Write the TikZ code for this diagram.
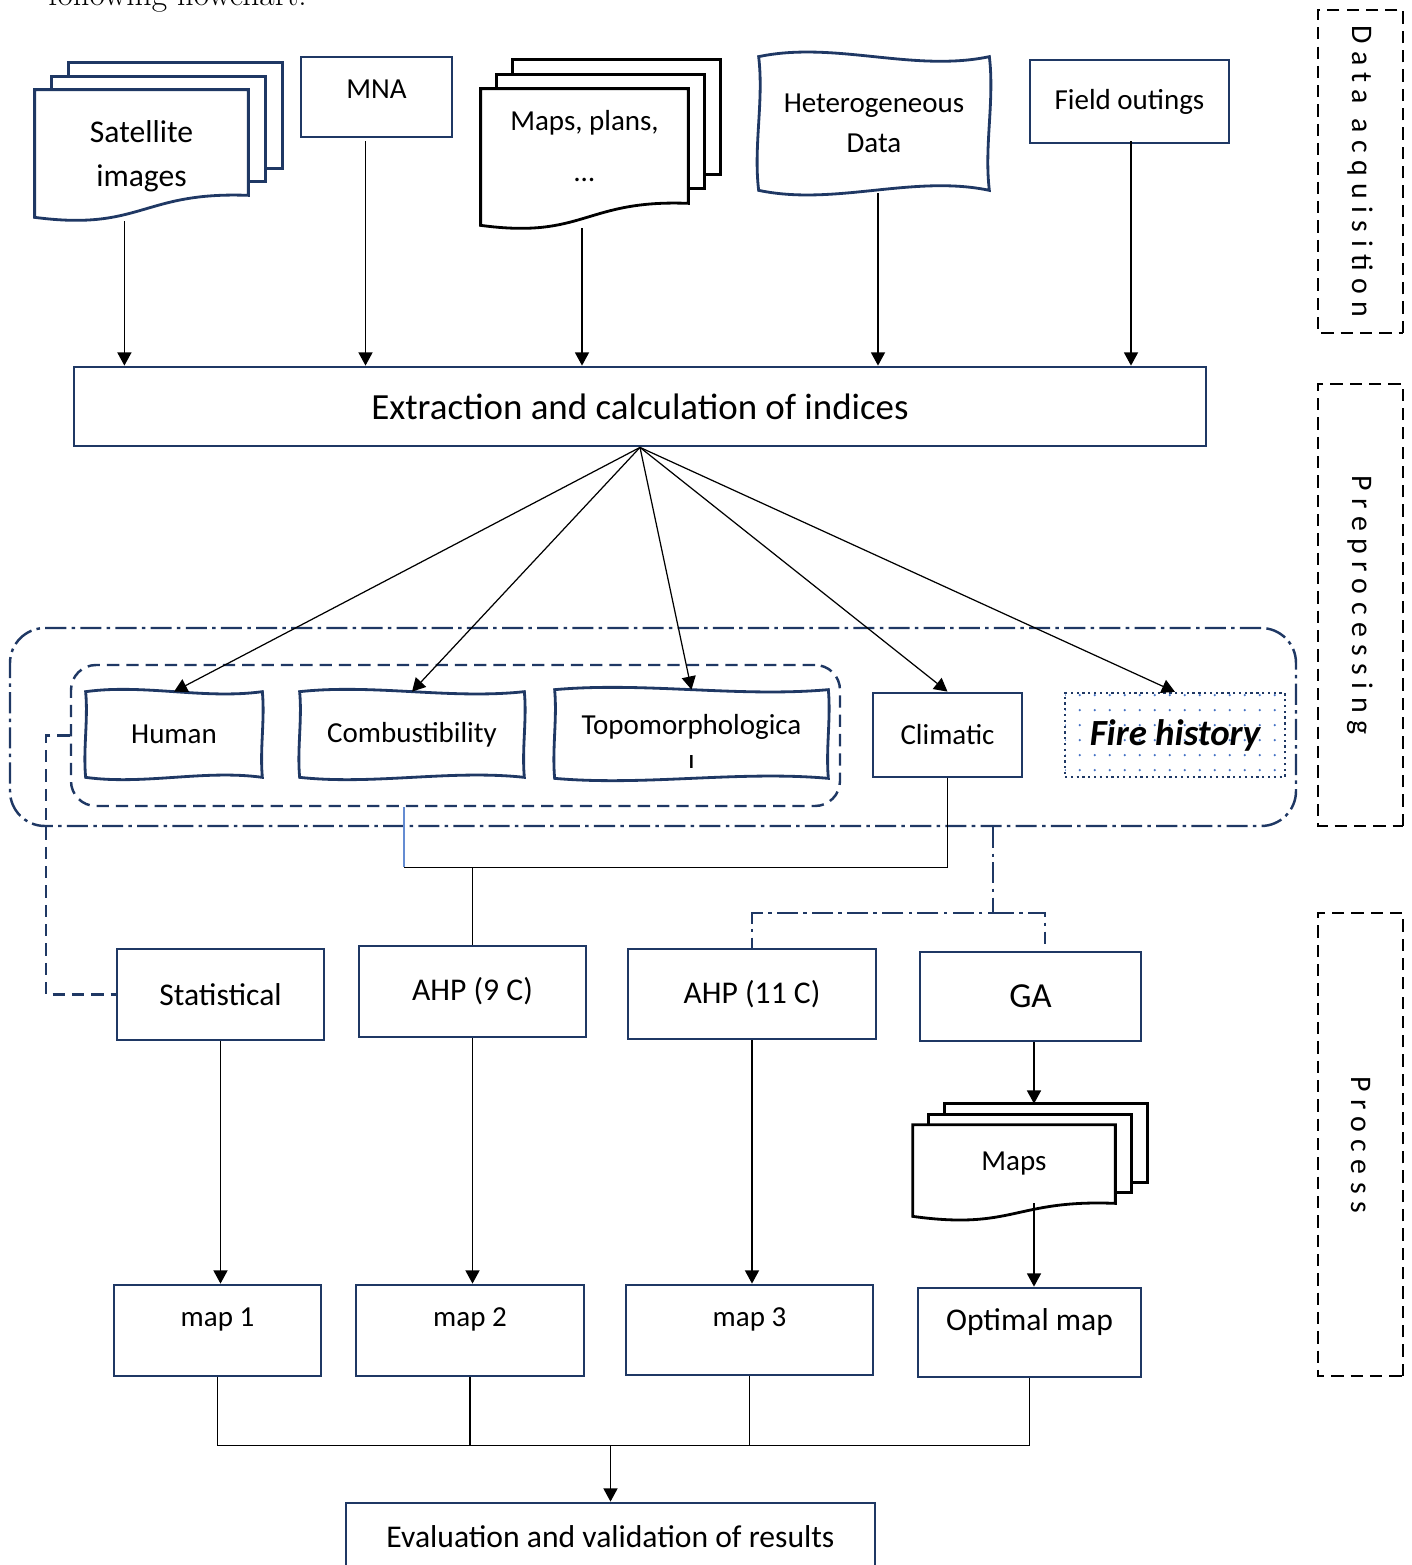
\documentclass[tikz,border=0pt]{standalone}
\usepackage{fontspec}
\setsansfont{Carlito}
\newfontfamily\sidefont{Carlito}[LetterSpace=25]
\usepackage{tikz}
\definecolor{navy}{RGB}{31,56,100}
\definecolor{dotblue}{RGB}{68,114,196}
\definecolor{linkblue}{RGB}{100,140,210}
\usetikzlibrary{arrows.meta, positioning, calc, backgrounds, patterns.meta}

\newcommand{\boxfont}{\sffamily\fontsize{16.5}{23}\selectfont}
\newcommand{\bigfont}{\sffamily\fontsize{18}{25}\selectfont}

% stacked document pages: node, colour, dx, dy (px), wave depth (px)
\newcommand{\pagestack}[5]{%
  \foreach \k in {2,1}{
    \draw[#2, line width=1.6pt, fill=white] ($(#1.north west)+(\k*#3,-\k*#4)$) rectangle ($(#1.south east)+(\k*#3,-\k*#4)$);
  }
  \draw[#2, line width=1.6pt, fill=white] (#1.north west) -- (#1.north east) -- (#1.south east)
    .. controls ($(#1.south east)!0.5!(#1.south west)+(0,-4)$) and ($(#1.south east)!0.5!(#1.south west)+(0,#5+14)$) .. ($(#1.south west)+(0,#5)$) -- cycle;
}
% hand-drawn box: node, amplitude (px)
\newcommand{\wavybox}[2]{%
  \draw[navy, line width=1.6pt, fill=white] (#1.north west)
    .. controls ($(#1.north west)!0.33!(#1.north east)+(0,-#2)$) and ($(#1.north west)!0.67!(#1.north east)+(0,#2)$) .. (#1.north east)
    .. controls ($(#1.north east)!0.33!(#1.south east)+(#2/3,0)$) and ($(#1.north east)!0.67!(#1.south east)+(-#2/3,0)$) .. (#1.south east)
    .. controls ($(#1.south east)!0.33!(#1.south west)+(0,-#2)$) and ($(#1.south east)!0.67!(#1.south west)+(0,#2)$) .. (#1.south west)
    .. controls ($(#1.south west)!0.33!(#1.north west)+(-#2/3,0)$) and ($(#1.south west)!0.67!(#1.north west)+(#2/3,0)$) .. cycle;
}

\begin{document}
\begin{tikzpicture}[
    x=0.02cm, y=-0.02cm,
    sz/.style 2 args={minimum width=#1*0.02cm, minimum height=#2*0.02cm},
    lift/.style={text depth=#1*0.02cm},
    plain/.style={rectangle, align=center, inner sep=0pt, font=\boxfont},
    box/.style={plain, draw=navy, line width=1.6pt},
    sidebox/.style={rectangle, draw=black, line width=1.3pt, dash pattern=on 7pt off 4pt,
                    inner sep=0pt, font=\sidefont\fontsize{17}{20}\selectfont, rotate=-90},
    arr/.style={-{Triangle[length=7.5pt, width=8pt]}, line width=0.7pt},
    link/.style={line width=0.7pt},
    dashlink/.style={draw=navy, line width=1.4pt, dash pattern=on 7pt off 4pt},
    dotlink/.style={draw=navy, line width=1.4pt, dash pattern=on 12pt off 3pt on 2pt off 3pt}
]
    \useasboundingbox (0,0) rectangle (1411,1565);

    % Intro line, cut by the top edge
    \node[anchor=base west, inner sep=0pt, font=\rmfamily\fontsize{19}{22}\selectfont] (intro) at (48,6) {following flowchart.};

    % Data sources
    \node[plain, sz={213}{105}, font=\bigfont] (sat) at (141.5,142.5)
        {\raisebox{-0.42cm}[0pt][0pt]{\begin{tabular}{@{}c@{}}Satellite\\images\end{tabular}}};
    \node[box, sz={151}{80}, lift=16] (mna) at (376.5,97) {MNA};
    \node[plain, sz={207}{114}] (plans) at (584.5,146) {Maps, plans,\\[6pt]…};
    \node[plain, sz={230}{133}] (het) at (874,123.5) {Heterogeneous\\Data};
    \node[box, sz={199}{83}] (field) at (1129.5,101.5) {Field outings};
    \begin{scope}[on background layer]
        \pagestack{sat}{navy}{17}{13.5}{22}
        \pagestack{plans}{black}{16}{14.5}{22}
        \wavybox{het}{16}
    \end{scope}

    % Extraction
    \node[box, sz={1132}{79}, font=\sffamily\fontsize{21}{25}\selectfont] (ext) at (640,406.5) {Extraction and calculation of indices};
    \coordinate (satout) at ($(sat.south west)!0.42!(sat.south east)+(0,26)$);
    \coordinate (mnaout) at ($(mna.south)+(-11,3)$);
    \coordinate (plansout) at ($(plans.south)+(-2.5,25)$);
    \coordinate (hetout) at ($(het.south)+(4,3)$);
    \coordinate (fieldout) at ($(field.south)+(1.5,-3)$);
    \foreach \src in {satout, mnaout, plansout, hetout, fieldout}
        \draw[arr] (\src) -- (\src |- ext.north);

    % Groups of indicators
    \node[draw=navy, line width=1.4pt, rounded corners=0.7cm, dash pattern=on 12pt off 3pt on 2pt off 3pt, sz={1286}{198}] (prep) at (653,727) {};
    \node[draw=navy, line width=1.4pt, rounded corners=0.5cm, dash pattern=on 7pt off 4pt, sz={769}{141}] (factors) at (455.5,735.5) {};

    % Indicators
    \node[plain, sz={176}{85}] (human) at (174,734.5) {Human};
    \node[plain, sz={224}{85}] (comb) at (412,734.5) {Combustibility};
    \node[plain, sz={273}{88}, lift=20] (topo) at (691.5,734) {Topomorphologica};
    \node[box, sz={149}{84}] (clim) at (947.5,735) {Climatic};
    \node[draw=navy, dotted, line width=1.3pt, pattern={Dots[distance=0.3cm, radius=0.7pt]}, pattern color=dotblue, sz={220}{84},
          font=\sffamily\bfseries\itshape\fontsize{21}{25}\selectfont] (fire) at (1175,735) {Fire history};
    \begin{scope}[on background layer]
        \foreach \f in {human, comb, topo} \wavybox{\f}{8};
    \end{scope}
    \begin{scope}
        \clip ($(topo.center)+(-30,21)$) rectangle ($(topo.center)+(30,40)$);
        \node[plain] (topotail) at ($(topo.center)+(0,24)$) {l};
    \end{scope}
    \foreach \f in {human, comb, topo, clim, fire}
        \draw[arr] (ext.south) -- (\f.north);

    % Process
    \node[box, sz={207}{91}, font=\bigfont] (stat) at (220.5,994.5) {Statistical};
    \node[box, sz={227}{91}, font=\bigfont] (ahp9) at (472.5,991.5) {AHP (9 C)};
    \node[box, sz={248}{90}, font=\bigfont] (ahp11) at (752,994) {AHP (11 C)};
    \node[box, sz={221}{89}, font=\sffamily\fontsize{20}{24}\selectfont] (ga) at (1030.5,996.5) {GA};

    \coordinate (factorsout) at ($(factors.south)+(-51.5,0)$);
    \coordinate (merge) at ($(factorsout)+(0,60)$);
    \draw[link, linkblue] (factorsout) -- (merge);
    \draw[link] (merge) -| (clim.south);
    \draw[link] (merge -| ahp9.north) -- (ahp9.north);
    \draw[dashlink] (factors.west) -- ++(-24,0) |- (stat.west);
    \coordinate (prepout) at ($(prep.south)+(340,0)$);
    \coordinate (split) at ($(prepout)+(0,86)$);
    \draw[dotlink] (prepout) -- (split) -| (ahp11.north);
    \draw[dotlink] (split) -| ($(ga.north)+(14.5,-7)$);

    % Maps
    \node[plain, sz={202}{78}] (maps) at (1014,1164) {Maps};
    \begin{scope}[on background layer]
        \pagestack{maps}{black}{16}{10.5}{13}
    \end{scope}
    \node[box, sz={207}{91}, lift=26] (map1) at (217.5,1330.5) {map 1};
    \node[box, sz={228}{91}, lift=26] (map2) at (470,1330.5) {map 2};
    \node[box, sz={247}{90}, lift=26] (map3) at (749.5,1330) {map 3};
    \node[box, sz={223}{89}, font=\bigfont, lift=26] (optimal) at (1029.5,1332.5) {Optimal map};
    \draw[arr] (stat.south) -- (stat.south |- map1.north);
    \draw[arr] (ahp9.south) -- (ahp9.south |- map2.north);
    \draw[arr] (ahp11.south) -- (ahp11.south |- map3.north);
    \coordinate (mapstop) at ($(maps.north)+(20,-21)$);
    \draw[arr] (mapstop |- ga.south) -- (mapstop);
    \draw[arr] (mapstop |- maps.south) -- (mapstop |- optimal.north);

    % Evaluation
    \node[box, sz={529}{68}, font=\bigfont] (eval) at (610.5,1537) {Evaluation and validation of results};
    \draw[link] (map1.south) -- ++(0,68) coordinate (joint) -| (optimal.south);
    \draw[link] (map2.south) -- (map2.south |- joint);
    \draw[link] (map3.south) -- (map3.south |- joint);
    \draw[arr] (eval.north |- joint) -- (eval.north);

    % Stages
    \node[sidebox, sz={323}{85}] (acq) at (1360.5,171.5) {Data acquisition};
    \node[sidebox, sz={442}{85}] (pre) at (1360.5,605) {Preprocessing};
    \node[sidebox, sz={463}{85}] (proc) at (1360.5,1144.5) {Process};
\end{tikzpicture}
\end{document}
